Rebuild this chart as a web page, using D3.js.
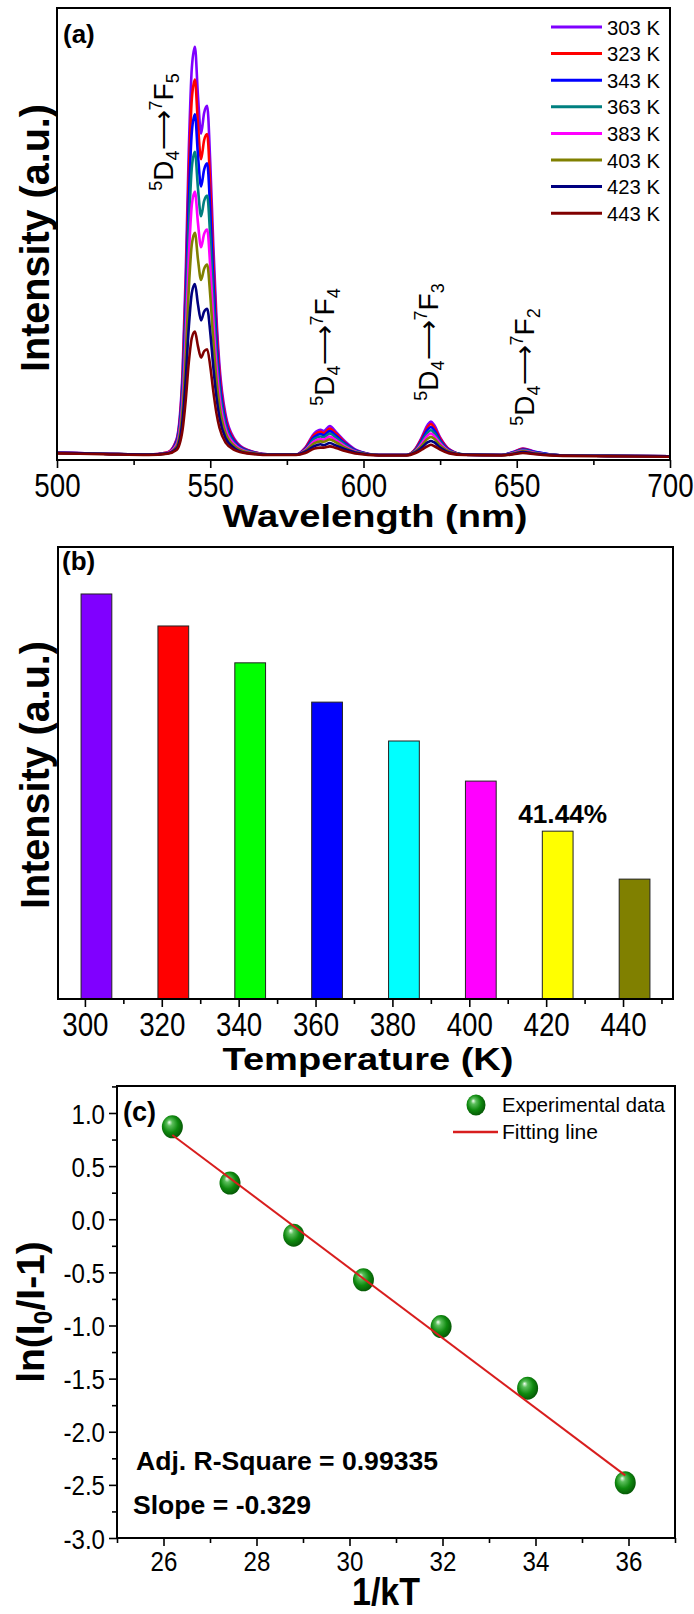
<!DOCTYPE html>
<html>
<head>
<meta charset="utf-8">
<script src="https://d3js.org/d3.v7.min.js"></script>
<style>
body { margin: 0; background: #fff; }
svg text { font-family: "Liberation Sans", Arial, Helvetica, sans-serif; fill: #000; }
</style>
</head>
<body>
<script>

// ---------- (a) emission spectra ----------
wavelength = [500, 515, 530, 536, 539, 541, 542, 543, 544, 545, 546, 547, 548, 549, 550, 551, 552, 553, 555, 558,
  562, 570, 578, 581, 584, 586, 587, 589, 591, 594, 598, 605, 614, 617, 619, 621, 622, 623, 625, 628,
  633, 645, 649, 652, 656, 665, 680, 700]

i303 = [1.8, 1.5, 1.3, 1.8, 5.0, 22, 45, 75, 95, 100, 88, 79, 84, 85.7, 72, 52, 35, 23, 11, 5.0,
  2.5, 1.3, 1.3, 3.0, 6.5, 7.3, 7.0, 8.2, 6.8, 4.5, 2.3, 1.2, 1.2, 2.8, 5.5, 8.6, 9.3, 8.5, 5.5, 2.6,
  1.3, 1.2, 2.0, 2.8, 2.0, 1.1, 1.0, 0.9]
i323 = [1.8, 1.5, 1.3, 1.8, 4.7, 20.3, 41.5, 69.1, 87.5, 92.1, 81.1, 72.8, 77.4, 78.9, 66.3, 47.9, 32.3, 21.3, 10.2, 4.7,
  2.4, 1.3, 1.3, 2.9, 6.1, 6.8, 6.5, 7.6, 6.4, 4.2, 2.2, 1.2, 1.2, 2.7, 5.2, 8.0, 8.7, 7.9, 5.2, 2.5,
  1.3, 1.2, 1.9, 2.7, 1.9, 1.1, 1.0, 0.9]
i343 = [1.8, 1.5, 1.3, 1.7, 4.4, 18.6, 37.8, 62.8, 79.5, 83.7, 73.7, 66.2, 70.3, 71.8, 60.3, 43.6, 29.4, 19.4, 9.4, 4.4,
  2.3, 1.3, 1.3, 2.7, 5.6, 6.3, 6.0, 7.0, 5.9, 4.0, 2.1, 1.2, 1.2, 2.5, 4.8, 7.4, 8.0, 7.3, 4.8, 2.4,
  1.3, 1.2, 1.9, 2.5, 1.9, 1.1, 1.0, 0.9]
i363 = [1.7, 1.5, 1.3, 1.7, 4.0, 16.7, 33.7, 56.0, 70.9, 74.6, 65.7, 59.0, 62.7, 64.0, 53.8, 38.9, 26.3, 17.4, 8.5, 4.0,
  2.2, 1.3, 1.3, 2.5, 5.1, 5.7, 5.5, 6.4, 5.4, 3.7, 2.0, 1.2, 1.2, 2.4, 4.4, 6.7, 7.2, 6.6, 4.4, 2.2,
  1.3, 1.2, 1.8, 2.4, 1.8, 1.1, 1.0, 0.9]
i383 = [1.7, 1.5, 1.3, 1.7, 3.7, 14.6, 29.5, 48.9, 61.8, 65.0, 57.3, 51.5, 54.7, 55.8, 46.9, 34.0, 23.0, 15.3, 7.5, 3.7,
  2.0, 1.3, 1.3, 2.4, 4.6, 5.1, 4.9, 5.7, 4.8, 3.3, 1.9, 1.2, 1.2, 2.2, 4.0, 6.0, 6.4, 5.9, 4.0, 2.1,
  1.3, 1.2, 1.7, 2.2, 1.7, 1.1, 1.0, 0.9]
i403 = [1.7, 1.5, 1.3, 1.6, 3.3, 12.5, 25.1, 41.4, 52.3, 55.0, 48.5, 43.6, 46.3, 47.3, 39.8, 28.9, 19.6, 13.1, 6.5, 3.3,
  1.9, 1.3, 1.3, 2.2, 4.1, 4.5, 4.4, 5.0, 4.3, 3.0, 1.8, 1.2, 1.2, 2.1, 3.5, 5.2, 5.6, 5.2, 3.5, 2.0,
  1.3, 1.2, 1.6, 2.1, 1.6, 1.1, 1.0, 0.9]
i423 = [1.7, 1.5, 1.3, 1.6, 2.8, 9.9, 19.6, 32.1, 40.5, 42.6, 37.6, 33.8, 35.9, 36.6, 30.9, 22.5, 15.4, 10.3, 5.3, 2.8,
  1.7, 1.3, 1.3, 2.0, 3.4, 3.8, 3.6, 4.1, 3.5, 2.6, 1.7, 1.2, 1.2, 1.9, 3.0, 4.3, 4.6, 4.3, 3.0, 1.8,
  1.3, 1.2, 1.5, 1.9, 1.5, 1.1, 1.0, 0.9]
i443 = [1.6, 1.4, 1.2, 1.5, 2.4, 7.5, 14.5, 23.6, 29.6, 31.1, 27.5, 24.8, 26.3, 26.8, 22.7, 16.6, 11.4, 7.8, 4.2, 2.4,
  1.6, 1.2, 1.2, 1.7, 2.8, 3.0, 3.0, 3.3, 2.9, 2.2, 1.5, 1.1, 1.1, 1.7, 2.5, 3.4, 3.7, 3.4, 2.5, 1.6,
  1.2, 1.1, 1.4, 1.7, 1.4, 1.0, 0.9, 0.8]

spectra = [i303, i323, i343, i363, i383, i403, i423, i443]
seriesNames = ['303 K', '323 K', '343 K', '363 K', '383 K', '403 K', '423 K', '443 K']
lineColors = ['#7f00ff', '#ff0000', '#0000ff', '#008080', '#ff00ff', '#808000', '#000080', '#800000']

waveTicks = [500, 550, 600, 650, 700]
waveMinor = [525, 575, 625, 675]

// ---------- (b) integrated intensity ----------
barTemps = [303, 323, 343, 363, 383, 403, 423, 443]
barIntensity = [1.0, 0.921, 0.830, 0.733, 0.637, 0.538, 0.4144, 0.296]
barColors = ['#8000ff', '#ff0000', '#00ff00', '#0000ff', '#00ffff', '#ff00ff', '#ffff00', '#808000']
tempTicks = [300, 320, 340, 360, 380, 400, 420, 440]
tempMinor = [310, 330, 350, 370, 390, 410, 430, 450]

// ---------- (c) ln(I0/I-1) vs 1/kT ----------
invKT = [26.19, 27.43, 28.80, 30.30, 31.97, 33.83, 35.93]
lnRatio = [0.87, 0.34, -0.15, -0.57, -1.01, -1.59, -2.48]
fitSlope = -0.329
fitIntercept = 9.41
kTTicks = [26, 28, 30, 32, 34, 36]
kTMinor = [25, 27, 29, 31, 33, 35, 37]
lnTicks = [1.0, 0.5, 0.0, -0.5, -1.0, -1.5, -2.0, -2.5, -3.0]
lnMinor = [1.25, 0.75, 0.25, -0.25, -0.75, -1.25, -1.75, -2.25, -2.75]


const svg = d3.select('body').append('svg')
    .attr('width', 694)
    .attr('height', 1614)

svg.append('rect').attr('width', 694).attr('height', 1614).attr('fill', '#fff')

const defs = svg.append('defs')
const grad = defs.append('radialGradient').attr('id', 'ball')
    .attr('cx', '45%').attr('cy', '45%').attr('r', '60%')
    .attr('fx', '35%').attr('fy', '30%')
grad.append('stop').attr('offset', '0%').attr('stop-color', '#f4fff4')
grad.append('stop').attr('offset', '22%').attr('stop-color', '#5cbf5c')
grad.append('stop').attr('offset', '60%').attr('stop-color', '#0f8a0f')
grad.append('stop').attr('offset', '100%').attr('stop-color', '#045004')

// squeeze or stretch a text to a set width
function fitLen(sel, len) {
  sel.attr('textLength', len).attr('lengthAdjust', 'spacingAndGlyphs')
}
function condense(sel, f) {
  sel.each(function() {
    const w = this.getComputedTextLength()
    d3.select(this).attr('textLength', w * f).attr('lengthAdjust', 'spacingAndGlyphs')
  })
}

// axis with major + minor ticks, no domain line (frame is drawn apart)
function styleAxis(g, fontSize) {
  g.select('.domain').remove()
  g.selectAll('.tick line').attr('stroke', '#000').attr('stroke-width', 1.6)
  if (fontSize) g.selectAll('.tick text').style('font-size', fontSize + 'px').attr('fill', '#000')
  else g.selectAll('.tick text').remove()   // minor ticks: no labels
}

function frame(x0, y0, x1, y1) {
  svg.append('rect')
    .attr('x', x0).attr('y', y0)
    .attr('width', x1 - x0).attr('height', y1 - y0)
    .attr('fill', 'none').attr('stroke', '#000').attr('stroke-width', 2)
}


// ================= panel (a) =================
const A = { l: 57, r: 670, t: 8, b: 460 }
const xA = d3.scaleLinear().domain([500, 700]).range([A.l, A.r])
const yA = d3.scaleLinear().domain([0, 109.4]).range([A.b, A.t])

defs.append('clipPath').attr('id', 'clipA')
  .append('rect').attr('x', A.l).attr('y', A.t).attr('width', A.r - A.l).attr('height', A.b - A.t)

const line = d3.line()
    .x((d, i) => xA(wavelength[i]))
    .y(d => yA(d))
    .curve(d3.curveMonotoneX)

svg.append('g').attr('clip-path', 'url(#clipA)')
  .selectAll('path')
  .data(spectra)
  .join('path')
    .attr('d', d => line(d))
    .attr('fill', 'none')
    .attr('stroke', (d, i) => lineColors[i])
    .attr('stroke-width', 2.6)
    .attr('stroke-linejoin', 'round')

let ax = svg.append('g').attr('transform', `translate(0,${A.b})`)
  .call(d3.axisBottom(xA).tickValues(waveTicks).tickSize(8).tickFormat(d3.format('d')))
styleAxis(ax, 33)
ax.selectAll('.tick text').attr('y', 37).attr('dy', 0)
condense(ax.selectAll('.tick text'), 0.84)
ax = svg.append('g').attr('transform', `translate(0,${A.b})`)
  .call(d3.axisBottom(xA).tickValues(waveMinor).tickSize(5))
styleAxis(ax, 0)

frame(A.l, A.t, A.r, A.b)

// legend
const legA = svg.append('g')
seriesNames.forEach((name, i) => {
  const y = 27 + i * 26.6
  legA.append('line').attr('x1', 551).attr('x2', 602).attr('y1', y).attr('y2', y)
    .attr('stroke', lineColors[i]).attr('stroke-width', 3)
  const t = legA.append('text').attr('x', 607).attr('y', y + 7.5).style('font-size', '21px').text(name)
  fitLen(t, 53)
})

svg.append('text').attr('x', 63).attr('y', 43).style('font-size', '26px').style('font-weight', 'bold').text('(a)')

// transition labels (rotated)
function transitionLabel(x, y, last) {
  const t = svg.append('text')
      .attr('transform', `translate(${x},${y}) rotate(-90)`)
      .attr('text-anchor', 'middle')
      .style('font-size', '28px')
  const parts = [['5', 18, -11], ['D', 28, 11], ['4', 18, 6], ['\u27F6', 28, -6], ['7', 18, -11], ['F', 28, 11], [last, 18, 6]]
  parts.forEach(p => t.append('tspan').style('font-size', p[1] + 'px').attr('dy', p[2]).text(p[0]))
}
transitionLabel(173, 132, '5')
transitionLabel(334, 347, '4')
transitionLabel(438, 342, '3')
transitionLabel(534, 367, '2')

// axis titles
let tt = svg.append('text').attr('x', 375).attr('y', 527).attr('text-anchor', 'middle')
  .style('font-size', '31px').style('font-weight', 'bold').text('Wavelength (nm)')
fitLen(tt, 305)
tt = svg.append('text').attr('transform', 'translate(49,238) rotate(-90)').attr('text-anchor', 'middle')
  .style('font-size', '41px').style('font-weight', 'bold').text('Intensity (a.u.)')
fitLen(tt, 268)


// ================= panel (b) =================
const B = { l: 58, r: 673, t: 547, b: 999 }
const xB = d3.scaleLinear().domain([293, 453]).range([B.l, B.r])
const yB = d3.scaleLinear().domain([0, 1.116]).range([B.b, B.t])
const barHalf = 4   // half width of a bar, in K

svg.append('g').selectAll('rect')
  .data(barIntensity)
  .join('rect')
    .attr('x', (d, i) => xB(barTemps[i] - barHalf))
    .attr('width', (d, i) => xB(barTemps[i] + barHalf) - xB(barTemps[i] - barHalf))
    .attr('y', d => yB(d))
    .attr('height', d => yB(0) - yB(d))
    .attr('fill', (d, i) => barColors[i])
    .attr('stroke', '#222').attr('stroke-width', 1)

ax = svg.append('g').attr('transform', `translate(0,${B.b})`)
  .call(d3.axisBottom(xB).tickValues(tempTicks).tickSize(8).tickFormat(d3.format('d')))
styleAxis(ax, 33)
ax.selectAll('.tick text').attr('y', 37).attr('dy', 0)
condense(ax.selectAll('.tick text'), 0.84)
ax = svg.append('g').attr('transform', `translate(0,${B.b})`)
  .call(d3.axisBottom(xB).tickValues(tempMinor).tickSize(5))
styleAxis(ax, 0)

frame(B.l, B.t, B.r, B.b)

svg.append('text').attr('x', 62).attr('y', 570).style('font-size', '26px').style('font-weight', 'bold').text('(b)')

// quenching ratio on the 423 K bar
tt = svg.append('text')
  .attr('x', xB(barTemps[6]) + 5)
  .attr('y', yB(barIntensity[6]) - 8)
  .attr('text-anchor', 'middle')
  .style('font-size', '25px').style('font-weight', 'bold')
  .text(d3.format('.2f')(barIntensity[6] / barIntensity[0] * 100) + '%')
fitLen(tt, 89)

tt = svg.append('text').attr('x', 368).attr('y', 1070).attr('text-anchor', 'middle')
  .style('font-size', '31px').style('font-weight', 'bold').text('Temperature (K)')
fitLen(tt, 291)
tt = svg.append('text').attr('transform', 'translate(49,775) rotate(-90)').attr('text-anchor', 'middle')
  .style('font-size', '41px').style('font-weight', 'bold').text('Intensity (a.u.)')
fitLen(tt, 268)


// ================= panel (c) =================
const C = { l: 117, r: 675, t: 1086, b: 1538 }
const xC = d3.scaleLinear().domain([25, 37]).range([C.l, C.r])
const yC = d3.scaleLinear().domain([-3, 1.254]).range([C.b, C.t])

ax = svg.append('g').attr('transform', `translate(0,${C.b})`)
  .call(d3.axisBottom(xC).tickValues(kTTicks).tickSize(8).tickFormat(d3.format('d')))
styleAxis(ax, 28)
ax.selectAll('.tick text').attr('y', 33).attr('dy', 0)
condense(ax.selectAll('.tick text'), 0.86)
ax = svg.append('g').attr('transform', `translate(0,${C.b})`)
  .call(d3.axisBottom(xC).tickValues(kTMinor).tickSize(5))
styleAxis(ax, 0)

ax = svg.append('g').attr('transform', `translate(${C.l},0)`)
  .call(d3.axisLeft(yC).tickValues(lnTicks).tickSize(8).tickPadding(4).tickFormat(d => d.toFixed(1)))
styleAxis(ax, 28)
ax.selectAll('.tick text').attr('dy', '0.36em')
condense(ax.selectAll('.tick text'), 0.86)
ax = svg.append('g').attr('transform', `translate(${C.l},0)`)
  .call(d3.axisLeft(yC).tickValues(lnMinor).tickSize(5))
styleAxis(ax, 0)

frame(C.l, C.t, C.r, C.b)

svg.append('g').selectAll('ellipse')
  .data(lnRatio)
  .join('ellipse')
    .attr('cx', (d, i) => xC(invKT[i]))
    .attr('cy', d => yC(d))
    .attr('rx', 10.5).attr('ry', 11.5)
    .attr('fill', 'url(#ball)')

const xFit = d3.extent(invKT)
svg.append('line')
  .attr('x1', xC(xFit[0])).attr('y1', yC(fitIntercept + fitSlope * xFit[0]))
  .attr('x2', xC(xFit[1])).attr('y2', yC(fitIntercept + fitSlope * xFit[1]))
  .attr('stroke', '#d81e1e').attr('stroke-width', 2)

// legend
svg.append('ellipse').attr('cx', 476).attr('cy', 1105).attr('rx', 9.5).attr('ry', 10.5).attr('fill', 'url(#ball)')
tt = svg.append('text').attr('x', 502).attr('y', 1112).style('font-size', '21px').text('Experimental data')
fitLen(tt, 163)
svg.append('line').attr('x1', 453).attr('x2', 498).attr('y1', 1132).attr('y2', 1132)
  .attr('stroke', '#d81e1e').attr('stroke-width', 2.5)
tt = svg.append('text').attr('x', 502).attr('y', 1139).style('font-size', '21px').text('Fitting line')
fitLen(tt, 96)

svg.append('text').attr('x', 123).attr('y', 1121).style('font-size', '27px').style('font-weight', 'bold').text('(c)')

tt = svg.append('text').attr('x', 136).attr('y', 1470).style('font-size', '25px').style('font-weight', 'bold')
  .text('Adj. R-Square = 0.99335')
fitLen(tt, 302)
tt = svg.append('text').attr('x', 133).attr('y', 1514).style('font-size', '25px').style('font-weight', 'bold')
  .text('Slope = ' + fitSlope)
fitLen(tt, 178)

tt = svg.append('text').attr('x', 386).attr('y', 1605).attr('text-anchor', 'middle')
  .style('font-size', '39px').style('font-weight', 'bold').text('1/kT')
fitLen(tt, 68)

const yt = svg.append('text').attr('transform', 'translate(44,1312) rotate(-90)').attr('text-anchor', 'middle')
  .style('font-size', '39px').style('font-weight', 'bold')
yt.append('tspan').text('ln(I')
yt.append('tspan').style('font-size', '25px').attr('dy', 8).text('0')
yt.append('tspan').attr('dy', -8).text('/I-1)')

</script>
</body>
</html>
